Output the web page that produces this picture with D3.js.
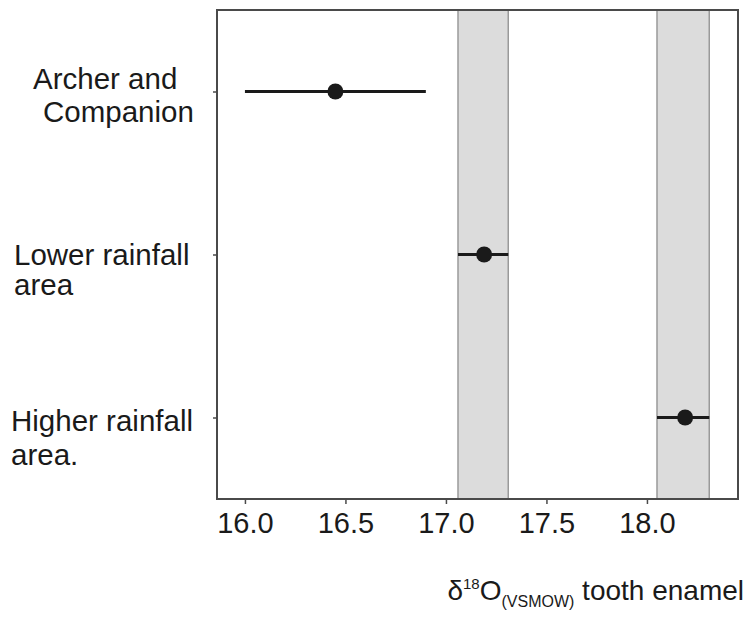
<!DOCTYPE html>
<html>
<head>
<meta charset="utf-8">
<script src="https://cdn.jsdelivr.net/npm/d3@7"></script>
<style>
  html, body { margin: 0; padding: 0; background: #fff; }
  svg { display: block; font-family: "Liberation Sans", Arial, sans-serif; }
</style>
</head>
<body>
<svg id="chart" width="753" height="626"></svg>
<script>
// ---- data ----
const categories = ["Archer and Companion", "Lower rainfall area", "Higher rainfall area."];
const labelLines = [["Archer and", "Companion"], ["Lower rainfall", "area"], ["Higher rainfall", "area."]];
const means = [16.45, 17.19, 18.19];
const lows  = [16.00, 17.06, 18.05];
const highs = [16.90, 17.31, 18.31];
const bandLows  = [17.06, 18.05];
const bandHighs = [17.31, 18.31];
const xTicks = [16.0, 16.5, 17.0, 17.5, 18.0];
const xDomain = [15.861, 18.453];

// ---- layout ----
const plot = { left: 217, right: 738, top: 10, bottom: 499 };
const labelLayout = [
  { x: [33, 43], dy: [-3, 30] },
  { x: [14, 14], dy: [10, 40] },
  { x: [11, 11], dy: [13, 47] }
];
const ink = "#1a1a1a";

const svg = d3.select("#chart");
const x = d3.scaleLinear().domain(xDomain).range([plot.left, plot.right]);
const y = d3.scalePoint().domain(categories).range([plot.top, plot.bottom]).padding(0.5);

// shaded bands
svg.append("g").selectAll("rect").data(bandLows).join("rect")
  .attr("x", (d) => x(d))
  .attr("y", plot.top)
  .attr("width", (d, i) => x(bandHighs[i]) - x(d))
  .attr("height", plot.bottom - plot.top)
  .attr("fill", "#dcdcdc")
  .attr("stroke", "#9a9a9a")
  .attr("stroke-width", 1.5);

// frame
svg.append("rect")
  .attr("x", plot.left).attr("y", plot.top)
  .attr("width", plot.right - plot.left).attr("height", plot.bottom - plot.top)
  .attr("fill", "none").attr("stroke", "#4a4a4a").attr("stroke-width", 2);

// x axis
const xAxis = d3.axisBottom(x).tickValues(xTicks).tickFormat(d3.format(".1f")).tickSize(5).tickPadding(8);
const gx = svg.append("g").attr("transform", `translate(0,${plot.bottom})`).call(xAxis);
gx.select(".domain").remove();
gx.selectAll(".tick line").attr("stroke", "#4a4a4a").attr("stroke-width", 1.5);
gx.selectAll(".tick text").attr("fill", ink).attr("font-size", 29).attr("dy", "0.72em")
  .attr("font-family", "'Liberation Sans', Arial, sans-serif");

// y axis ticks
const yAxis = d3.axisLeft(y).tickSize(4).tickFormat("");
const gy = svg.append("g").attr("transform", `translate(${plot.left},0)`).call(yAxis);
gy.select(".domain").remove();
gy.selectAll(".tick line").attr("stroke", "#4a4a4a").attr("stroke-width", 1.5);

// y labels
const lg = svg.append("g").attr("fill", ink).attr("font-size", 29.5);
categories.forEach((c, i) => {
  labelLines[i].forEach((line, j) => {
    lg.append("text")
      .attr("x", labelLayout[i].x[j])
      .attr("y", y(c) + labelLayout[i].dy[j])
      .text(line);
  });
});

// error bars
svg.append("g").selectAll("line").data(categories).join("line")
  .attr("x1", (d, i) => x(lows[i]))
  .attr("x2", (d, i) => x(highs[i]))
  .attr("y1", (d) => y(d))
  .attr("y2", (d) => y(d))
  .attr("stroke", ink).attr("stroke-width", 3);

// points
svg.append("g").selectAll("circle").data(categories).join("circle")
  .attr("cx", (d, i) => x(means[i]))
  .attr("cy", (d) => y(d))
  .attr("r", 8)
  .attr("fill", ink);

// x axis title
const t = svg.append("text")
  .attr("x", 744).attr("y", 600)
  .attr("text-anchor", "end")
  .attr("fill", ink)
  .attr("font-size", 28);
t.append("tspan").text("δ");
t.append("tspan").attr("font-size", 15).attr("dy", -11).text("18");
t.append("tspan").attr("dy", 11).text("O");
t.append("tspan").attr("font-size", 16).attr("dy", 7).text("(VSMOW)");
t.append("tspan").attr("dy", -7).text(" tooth enamel");
</script>
</body>
</html>
